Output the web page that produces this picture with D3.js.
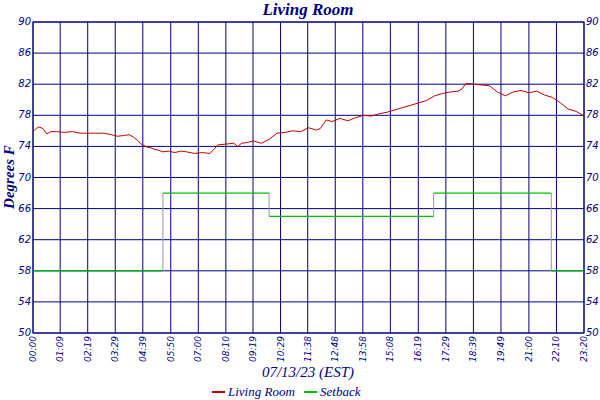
<!DOCTYPE html>
<html><head><meta charset="utf-8">
<script src="https://cdn.jsdelivr.net/npm/d3@7"></script>
<style>body{margin:0;background:#fff}text{font-family:"DejaVu Sans",sans-serif;font-style:italic;fill:#000080}</style>
</head><body><div id="plot"></div>
<script>
const width = 600, height = 400
const margin = {top: 22, right: 16, bottom: 67, left: 33}

const yTicks = [50, 54, 58, 62, 66, 70, 74, 78, 82, 86, 90]
const xTickMin = [0, 69, 139, 209, 279, 350, 420, 490, 559, 629, 698, 768, 838, 908, 979, 1049, 1119, 1189, 1260, 1330, 1400]
const xTickLabels = ['00:00','01:09','02:19','03:29','04:39','05:50','07:00','08:10','09:19','10:29','11:38','12:48','13:58','15:08','16:19','17:29','18:39','19:49','21:00','22:10','23:20']

// living room temperature (minute of day, degrees F)
const roomMin = [0,8,15,25,35,45,60,80,100,120,140,160,180,200,215,230,245,255,265,275,290,300,310,320,330,345,360,375,390,410,430,450,470,490,510,520,530,545,560,580,600,620,640,660,680,700,720,730,745,760,780,800,820,840,860,880,900,920,940,960,980,1000,1020,1040,1060,1080,1090,1100,1120,1140,1160,1170,1180,1200,1220,1240,1260,1280,1300,1320,1340,1360,1380,1400]
const roomVal = [75.9,76.3,76.5,76.3,75.6,75.9,75.9,75.8,75.9,75.7,75.7,75.7,75.7,75.5,75.3,75.4,75.5,75.2,74.8,74.3,73.9,73.8,73.6,73.5,73.3,73.4,73.2,73.4,73.3,73.1,73.2,73.1,74.2,74.3,74.4,74.0,74.4,74.5,74.7,74.4,74.9,75.7,75.8,76.0,75.9,76.4,76.1,76.3,77.4,77.2,77.6,77.3,77.7,78.0,77.9,78.2,78.4,78.7,79.0,79.3,79.6,79.9,80.5,80.8,81.0,81.1,81.4,82.1,82.0,81.9,81.8,81.4,81.0,80.5,81.0,81.2,80.9,81.1,80.6,80.3,79.6,78.8,78.5,77.9,77.6,77.5,77.2]

// setback schedule
const setMin = [0, 330, 600, 1018, 1317, 1400]
const setVal = [58, 68, 65, 68, 58, 58]

const svg = d3.select('#plot').append('svg').attr('width', width).attr('height', height)

const x = d3.scaleLinear().domain([0, 1400]).range([margin.left, width - margin.right])
const y = d3.scaleLinear().domain([50, 90]).range([height - margin.bottom, margin.top])

// grid
svg.append('g').selectAll('line').data(yTicks).join('line')
    .attr('x1', margin.left).attr('x2', width - margin.right)
    .attr('y1', d => y(d)).attr('y2', d => y(d))
    .attr('stroke', '#000080').attr('stroke-width', 1)
svg.append('g').selectAll('line').data(xTickMin).join('line')
    .attr('x1', d => x(d)).attr('x2', d => x(d))
    .attr('y1', margin.top).attr('y2', height - margin.bottom)
    .attr('stroke', '#000080').attr('stroke-width', 1)
svg.append('rect').attr('x', margin.left).attr('y', margin.top)
    .attr('width', width - margin.left - margin.right).attr('height', height - margin.top - margin.bottom)
    .attr('fill', 'none').attr('stroke', '#000080')

// y labels both sides
const yl = svg.append('g').style('font-size', '10px')
yl.selectAll('.l').data(yTicks).join('text').attr('class', 'l')
    .attr('x', margin.left - 2).attr('y', d => y(d) + 3).attr('text-anchor', 'end').text(d => d)
yl.selectAll('.r').data(yTicks).join('text').attr('class', 'r')
    .attr('x', width - margin.right + 2).attr('y', d => y(d) + 3).text(d => d)

// x labels rotated
svg.append('g').style('font-size', '9px').selectAll('text').data(xTickMin).join('text')
    .attr('transform', d => `translate(${x(d) + 3},${height - margin.bottom + 3}) rotate(-90)`)
    .attr('text-anchor', 'end').text((d, i) => xTickLabels[i])

// setback: horizontal green, vertical gray
for (let i = 0; i < setMin.length - 1; i++) {
    svg.append('line').attr('x1', x(setMin[i])).attr('x2', x(setMin[i + 1]))
        .attr('y1', y(setVal[i])).attr('y2', y(setVal[i])).attr('stroke', '#00c000').attr('stroke-width', 1.3)
    if (i > 0) svg.append('line').attr('x1', x(setMin[i])).attr('x2', x(setMin[i]))
        .attr('y1', y(setVal[i - 1])).attr('y2', y(setVal[i])).attr('stroke', '#999')
}

// living room line
const pts = roomMin.map((m, i) => [m, roomVal[i]])
svg.append('path').datum(pts)
    .attr('d', d3.line().x(d => x(d[0])).y(d => y(d[1])))
    .attr('fill', 'none').attr('stroke', '#c00000').attr('stroke-width', 1)

// titles
svg.append('text').attr('x', 308).attr('y', 15).attr('text-anchor', 'middle')
    .style('font-family', 'Liberation Serif, serif').style('font-weight', 'bold').style('font-size', '17px').text('Living Room')
svg.append('text').attr('transform', 'translate(14,177) rotate(-90)').attr('text-anchor', 'middle')
    .style('font-family', 'Liberation Serif, serif').style('font-weight', 'bold').style('font-size', '15px').text('Degrees F')
svg.append('text').attr('x', 308).attr('y', 377).attr('text-anchor', 'middle')
    .style('font-family', 'Liberation Serif, serif').style('font-size', '15px').text('07/13/23 (EST)')

// legend
const legend = [['Living Room', '#c00000', 212], ['Setback', '#00c000', 304]]
const lg = svg.append('g').selectAll('g').data(legend).join('g')
lg.append('line').attr('x1', d => d[2]).attr('x2', d => d[2] + 13).attr('y1', 392).attr('y2', 392)
    .attr('stroke', d => d[1]).attr('stroke-width', 2)
lg.append('text').attr('x', d => d[2] + 16).attr('y', 396)
    .style('font-family', 'Liberation Serif, serif').style('font-size', '13px').text(d => d[0])
</script></body></html>
